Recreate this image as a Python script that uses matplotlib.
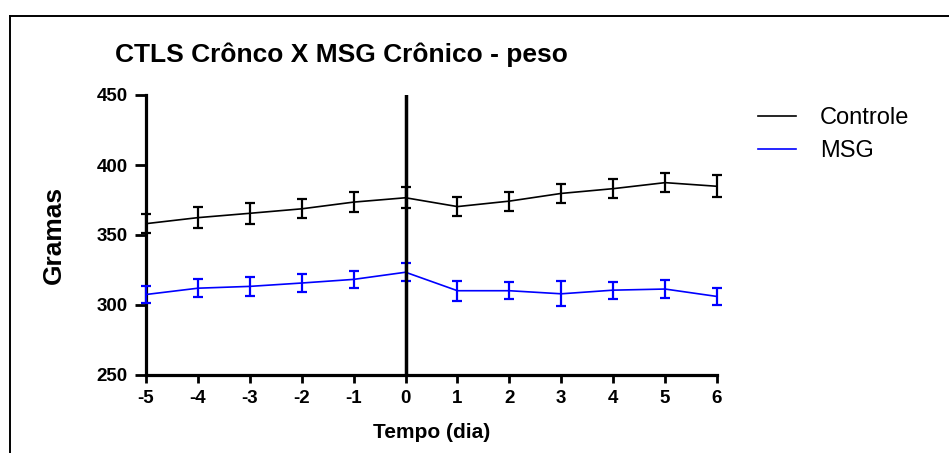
"""CTLS Crônico x MSG Crônico: body weight over time (mean +/- error)."""

import matplotlib

matplotlib.use("Agg")
import matplotlib.pyplot as plt
from matplotlib.lines import Line2D


days = [-5, -4, -3, -2, -1, 0, 1, 2, 3, 4, 5, 6]
controle_mean = [358.1, 362.4, 365.5, 368.7, 373.5, 376.6, 370.3, 374.2, 379.7, 383.1, 387.4, 384.8]
controle_err = [7.0, 7.4, 7.4, 6.8, 7.3, 7.4, 6.6, 6.7, 6.6, 6.6, 6.7, 7.9]
msg_mean = [307.5, 312.0, 313.3, 315.7, 318.3, 323.4, 310.2, 310.2, 308.0, 310.6, 311.4, 306.1]
msg_err = [6.4, 6.5, 7.0, 6.2, 6.2, 6.4, 7.0, 6.2, 8.9, 6.1, 6.7, 6.2]
y_ticks = [250, 300, 350, 400, 450]

plt.rcParams["font.family"] = ["Liberation Sans", "DejaVu Sans"]
plt.rcParams["axes.unicode_minus"] = False

W, H = 949, 453
fig = plt.figure(figsize=(W / 100, H / 100), dpi=100)
ax = fig.add_axes([146 / W, 1 - 375 / H, (717 - 146) / W, (375 - 95) / H])

# outer frame (left and top edges visible)
fig.add_artist(Line2D([10 / W, 10 / W], [0, 1 - 16 / H], transform=fig.transFigure, color="black", lw=1.4))
fig.add_artist(Line2D([10 / W, 1], [1 - 16 / H, 1 - 16 / H], transform=fig.transFigure, color="black", lw=1.4))

handles = []
for mean, err, color, label in [
    (controle_mean, controle_err, "black", "Controle"),
    (msg_mean, msg_err, "#0000ff", "MSG"),
]:
    eb = ax.errorbar(days, mean, yerr=err, color=color, lw=1.2, elinewidth=1.6,
                     capsize=3.3, capthick=1.6, zorder=3)
    for art in eb.get_children():
        art.set_clip_on(False)
    handles.append(Line2D([], [], color=color, lw=1.2, label=label))

ax.axvline(0, color="black", lw=2.5, zorder=4)

ax.set_xlim(-5, 6)
ax.set_ylim(250, 450)
ax.set_xticks(days)
ax.set_yticks(y_ticks)
ax.tick_params(axis="y", direction="out", length=8, width=2, labelsize=13.5, pad=5)
ax.tick_params(axis="x", direction="out", length=6, width=2, labelsize=13.5, pad=5)
for lab in ax.get_xticklabels() + ax.get_yticklabels():
    lab.set_fontweight("bold")

for side in ["top", "right"]:
    ax.spines[side].set_visible(False)
for side in ["left", "bottom"]:
    ax.spines[side].set_linewidth(2.3)

ax.set_ylabel("Gramas", fontsize=19, fontweight="bold", labelpad=22)
ax.set_xlabel("Tempo (dia)", fontsize=15, fontweight="bold", labelpad=11)

fig.text(115 / W, 1 - 55 / H, "CTLS Crônco X MSG Crônico - peso", fontsize=19,
         fontweight="bold", ha="left", va="center")

fig.legend(handles=handles, loc="upper left", bbox_to_anchor=(737 / W, 1 - 86 / H),
           frameon=False, fontsize=17, handlelength=1.6, handletextpad=1.0, labelspacing=0.45)

fig.savefig("out.png", dpi=100)
